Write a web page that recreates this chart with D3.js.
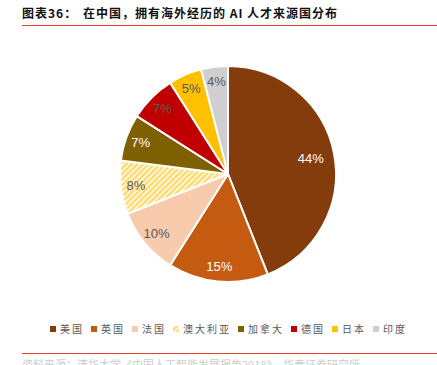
<!DOCTYPE html>
<html>
<head>
<meta charset="utf-8">
<script src="https://cdn.jsdelivr.net/npm/d3@7"></script>
<style>
  body { margin: 0; background: #fff; }
  svg { display: block; font-family: "Noto Sans CJK SC", "Liberation Sans", sans-serif; }
</style>
</head>
<body>
<svg id="chart" width="437" height="365"></svg>
<script>
const countries = ['美国', '英国', '法国', '澳大利亚', '加拿大', '德国', '日本', '印度'];
const shares = [44, 15, 10, 8, 7, 7, 5, 4];
const colors = ['#843C0C', '#C55A11', '#F8CBAD', 'url(#hatch)', '#7F6000', '#C00000', '#FFC000', '#D0CECE'];
const labelColors = ['#fff', '#fff', '#595959', '#595959', '#fff', '#595959', '#595959', '#595959'];

const svg = d3.select('#chart');
const W = 437;

// hatch pattern for Australia
let defs = svg.append('defs');
let pat = defs.append('pattern')
  .attr('id', 'hatch')
  .attr('patternUnits', 'userSpaceOnUse')
  .attr('width', 4)
  .attr('height', 4)
  .attr('patternTransform', 'rotate(45)');
pat.append('rect').attr('width', 4).attr('height', 4).attr('fill', '#FFF6D9');
pat.append('rect').attr('width', 2).attr('height', 4).attr('fill', '#FFD966');

// title
let title = svg.append('text')
  .attr('x', 22)
  .attr('y', 18)
  .attr('font-size', 12)
  .attr('font-weight', 'bold')
  .attr('letter-spacing', 1)
  .attr('fill', '#111');
title.append('tspan').text('图表36：');
title.append('tspan').attr('x', 83).text('在中国，拥有海外经历的 AI 人才来源国分布');
svg.append('line')
  .attr('x1', 22).attr('x2', W)
  .attr('y1', 25.5).attr('y2', 25.5)
  .attr('stroke', '#E8412C').attr('stroke-width', 1);

// pie
const cx = 228, cy = 174, r = 108;
let pie = d3.pie().sort(null).value(d => d)(shares);
let arc = d3.arc().innerRadius(0).outerRadius(r);
let g = svg.append('g').attr('transform', `translate(${cx},${cy})`);

g.selectAll('path.slice')
  .data(pie)
  .join('path')
  .attr('class', 'slice')
  .attr('d', arc)
  .attr('fill', (d, i) => colors[i])
  .attr('stroke', '#fff')
  .attr('stroke-width', 2)
  .attr('stroke-linejoin', 'round');

g.selectAll('text.lbl')
  .data(pie)
  .join('text')
  .attr('class', 'lbl')
  .attr('transform', (d, i) => {
    let lr = i === 0 ? 0.78 * r : 0.86 * r;
    let c = d3.arc().innerRadius(lr).outerRadius(lr).centroid(d);
    return `translate(${c[0]},${c[1]})`;
  })
  .attr('text-anchor', 'middle')
  .attr('dy', '0.35em')
  .attr('font-family', 'Liberation Sans, Arial, sans-serif')
  .attr('font-size', 13)
  .attr('fill', (d, i) => labelColors[i])
  .text(d => d.data + '%');

// legend
let legend = svg.append('g').attr('transform', 'translate(50,329)');
let lx = 0;
countries.forEach((name, i) => {
  let item = legend.append('g').attr('transform', `translate(${lx},0)`);
  item.append('rect')
    .attr('x', 0).attr('y', -3)
    .attr('width', 6).attr('height', 6)
    .attr('fill', colors[i]);
  item.append('text')
    .attr('x', 10)
    .attr('dy', '0.36em')
    .attr('font-size', 10)
    .attr('letter-spacing', 2)
    .attr('fill', '#595959')
    .text(name);
  lx += 10 + name.length * 12 + 7;
});

// bottom rule and faded source line
svg.append('line')
  .attr('x1', 22).attr('x2', W)
  .attr('y1', 353.5).attr('y2', 353.5)
  .attr('stroke', '#E8412C').attr('stroke-width', 1);
svg.append('text')
  .attr('x', 22)
  .attr('y', 369)
  .attr('font-size', 11)
  .attr('fill', '#ccc')
  .text('资料来源：清华大学《中国人工智能发展报告2018》，华泰证券研究所');
</script>
</body>
</html>
